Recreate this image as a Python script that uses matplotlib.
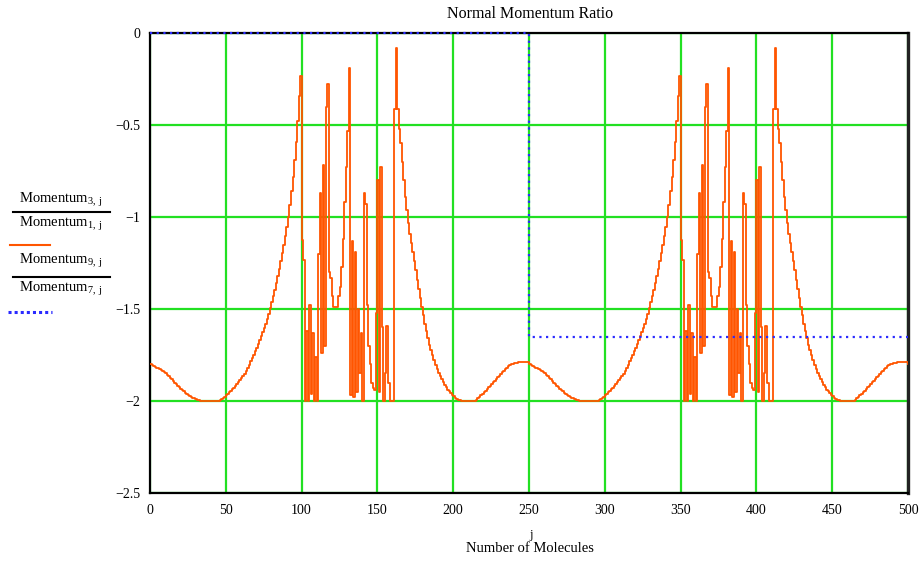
import numpy as np
import matplotlib
matplotlib.use("Agg")
import matplotlib.pyplot as plt
from matplotlib.lines import Line2D

plt.rcParams['font.family'] = ['Liberation Serif', 'DejaVu Serif']
plt.rcParams['mathtext.fontset'] = 'custom'
plt.rcParams['mathtext.rm'] = 'Liberation Serif'
plt.rcParams['mathtext.it'] = 'Liberation Serif:italic'

# Momentum_3 / Momentum_1 over one 250-molecule cycle (j = 0 .. 249)
ratio31_cycle = [
    -1.800, -1.804, -1.808, -1.813, -1.818, -1.822, -1.827, -1.832, -1.837, -1.843,
    -1.850, -1.858, -1.866, -1.874, -1.883, -1.892, -1.901, -1.910, -1.918, -1.926,
    -1.934, -1.941, -1.948, -1.954, -1.960, -1.966, -1.971, -1.976, -1.981, -1.986,
    -1.990, -1.994, -1.997, -1.999, -2.000, -2.000, -2.000, -2.000, -2.000, -2.000,
    -2.000, -2.000, -2.000, -2.000, -2.000, -1.998, -1.994, -1.989, -1.983, -1.976,
    -1.968, -1.960, -1.952, -1.944, -1.936, -1.928, -1.920, -1.910, -1.899, -1.888,
    -1.876, -1.864, -1.851, -1.836, -1.820, -1.803, -1.785, -1.766, -1.748, -1.729,
    -1.710, -1.690, -1.670, -1.649, -1.627, -1.604, -1.580, -1.553, -1.525, -1.495,
    -1.463, -1.430, -1.395, -1.358, -1.320, -1.280, -1.238, -1.195, -1.150, -1.103,
    -1.054, -1.000, -0.935, -0.860, -0.780, -0.690, -0.590, -0.480, -0.340, -0.235,
    -1.125, -1.235, -2.000, -1.620, -2.000, -1.480, -1.960, -1.630, -2.000, -1.760,
    -2.000, -1.200, -0.870, -1.740, -0.715, -1.700, -0.400, -0.275, -1.300, -1.330,
    -1.430, -1.490, -1.490, -1.490, -1.430, -1.380, -1.270, -1.120, -0.920, -0.730,
    -0.530, -0.190, -1.970, -1.130, -1.980, -1.190, -1.950, -1.500, -1.850, -1.630,
    -2.000, -0.870, -0.930, -1.480, -1.700, -1.800, -1.900, -1.930, -1.940, -1.520,
    -0.800, -1.950, -0.730, -1.600, -2.000, -1.850, -1.590, -1.900, -2.000, -2.000,
    -2.000, -0.415, -0.080, -0.415, -0.520, -0.600, -0.700, -0.800, -0.890, -0.960,
    -1.030, -1.090, -1.140, -1.190, -1.240, -1.290, -1.340, -1.390, -1.440, -1.490,
    -1.535, -1.580, -1.620, -1.660, -1.695, -1.725, -1.752, -1.778, -1.802, -1.825,
    -1.846, -1.865, -1.883, -1.899, -1.913, -1.926, -1.938, -1.948, -1.957, -1.966,
    -1.974, -1.981, -1.987, -1.992, -1.996, -1.999, -2.000, -2.000, -2.000, -2.000,
    -2.000, -2.000, -2.000, -2.000, -1.998, -1.993, -1.986, -1.978, -1.970, -1.962,
    -1.953, -1.944, -1.935, -1.926, -1.917, -1.908, -1.899, -1.890, -1.880, -1.871,
    -1.862, -1.853, -1.844, -1.835, -1.827, -1.819, -1.812, -1.806, -1.801, -1.797,
    -1.794, -1.792, -1.791, -1.790, -1.790, -1.790, -1.790, -1.790, -1.790, -1.790,
]

# Momentum_9 / Momentum_7: constant levels between breakpoints in j
ratio97_levels = [0.0, -1.65]
ratio97_breaks = [0, 250, 500]

x_ticks = [0, 50, 100, 150, 200, 250, 300, 350, 400, 450, 500]
y_ticks = [0, -0.5, -1, -1.5, -2, -2.5]
y_tick_labels = ['0', '\u22120.5', '\u22121', '\u22121.5', '\u22122', '\u22122.5']

# the same cycle repeats for molecules 250..499, j = 500 closes the range
ratio31 = np.array(ratio31_cycle * 2 + [ratio31_cycle[0]])
j = np.arange(len(ratio31))

W, H = 924, 561
fig = plt.figure(figsize=(W / 100, H / 100), dpi=100)


def fpos(x, y):
    return x / W, 1 - y / H


ax = fig.add_axes([150 / W, (H - 493) / H, 758 / W, 460 / H])
ax.set_xlim(0, 500)
ax.set_ylim(-2.5, 0)
ax.set_xticks(x_ticks)
ax.set_xticklabels([str(t) for t in x_ticks])
ax.set_yticks(y_ticks)
ax.set_yticklabels(y_tick_labels)
ax.tick_params(length=0, labelsize=10, colors='black')
ax.tick_params(axis='x', pad=8)
ax.tick_params(axis='y', pad=7)
ax.grid(True, color='#22e022', lw=1.6)
ax.set_axisbelow(True)
for s in ['left', 'bottom', 'top']:
    ax.spines[s].set_color('black')
    ax.spines[s].set_linewidth(1.6)
ax.spines['right'].set_color('#222222')
ax.spines['right'].set_linewidth(2.4)

ax.step(j, ratio31, where='post', color='#ff5500', lw=1.3, zorder=3)

blue_y = ratio97_levels + [ratio97_levels[-1]]
ax.step(ratio97_breaks, blue_y, where='post', color='#2a2aff', lw=1.6,
        ls=(0, (1, 2)), zorder=4, clip_on=False)

fig.text(*fpos(530, 14), 'Normal Momentum Ratio', ha='center', va='center',
         fontsize=11.5)
fig.text(*fpos(531, 535), 'j', ha='center', va='center', fontsize=9)
fig.text(*fpos(530, 549), 'Number of Molecules', ha='center', va='center',
         fontsize=10.5)

# legend: two stacked fractions with their trace samples
fs = 10.5
fig.text(*fpos(61, 200), r'$\mathrm{Momentum}_{\mathrm{3,\ j}}$', ha='center',
         va='center', fontsize=fs)
fig.add_artist(Line2D([13 / W, 110 / W], [1 - 212 / H] * 2, color='black',
                      lw=1.5, transform=fig.transFigure))
fig.text(*fpos(61, 224), r'$\mathrm{Momentum}_{\mathrm{1,\ j}}$', ha='center',
         va='center', fontsize=fs)
fig.add_artist(Line2D([10 / W, 50 / W], [1 - 245 / H] * 2, color='#ff5500',
                      lw=1.5, transform=fig.transFigure))
fig.text(*fpos(61, 261), r'$\mathrm{Momentum}_{\mathrm{9,\ j}}$', ha='center',
         va='center', fontsize=fs)
fig.add_artist(Line2D([13 / W, 110 / W], [1 - 277 / H] * 2, color='black',
                      lw=1.5, transform=fig.transFigure))
fig.text(*fpos(61, 289), r'$\mathrm{Momentum}_{\mathrm{7,\ j}}$', ha='center',
         va='center', fontsize=fs)
fig.add_artist(Line2D([8 / W, 52 / W], [1 - 312 / H] * 2, color='#2a2aff',
                      lw=2.2, ls=(0, (1, 1)), transform=fig.transFigure))

fig.savefig('out.png', dpi=100)
